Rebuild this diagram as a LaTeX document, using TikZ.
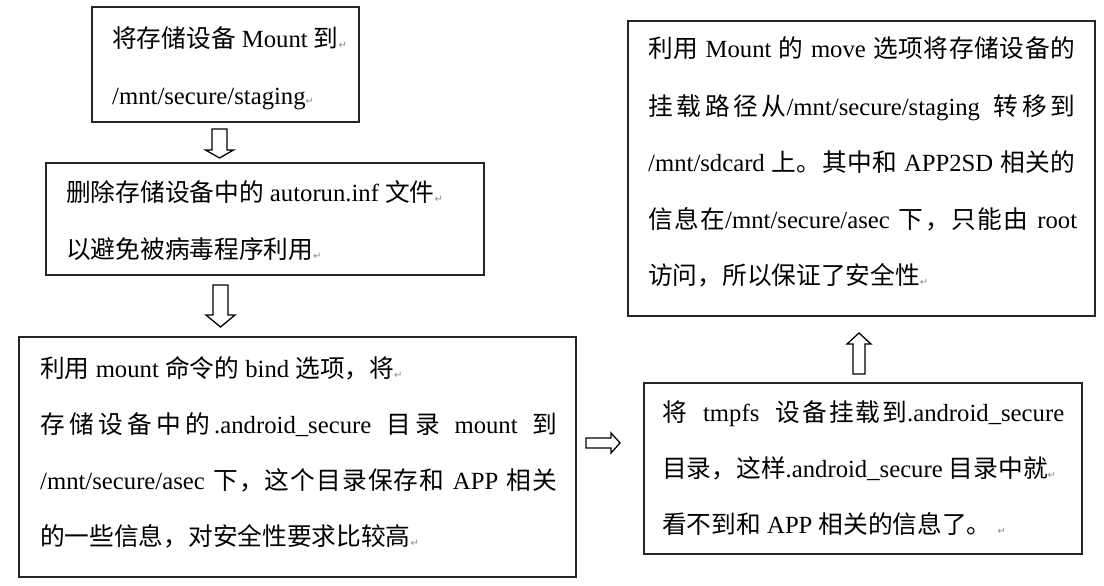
\documentclass[tikz,border=0pt]{standalone}
\usepackage{fontspec}
\setmainfont{Liberation Serif}
\newfontfamily\cjkfont{Noto Sans CJK SC}
\newfontfamily\dejavu{DejaVu Sans}
\newcommand\zh[1]{{\cjkfont#1}}
\newcommand\jg{\hspace{0pt plus 1fil}}
\newcommand\js{\hspace{0.25em plus 2fil}}
\newcommand\pmark{{\dejavu\fontsize{10}{10}\selectfont\color{black!45}\raisebox{-1pt}{↵}}}
\newcommand\jline[2]{\hbox to #1{#2}}
\begin{document}
\begin{tikzpicture}[x=1pt,y=-1pt,
  box/.style={draw=black!85,line width=1.7pt,fill=white,inner sep=0pt},
  txt/.style={anchor=base west,inner sep=0pt,font=\fontsize{24.7}{24.7}\selectfont},
  blockarrow/.style={draw=black,line width=1.3pt,fill=white,line join=miter}]
\useasboundingbox (0,0) rectangle (1104,586);
\fill[white] (0,0) rectangle (1104,586);
% boxes
\node[box,minimum width=267pt,minimum height=115pt] (b1) at (225.5,64.5) {};
\node[box,minimum width=438pt,minimum height=112pt] (b2) at (265,219) {};
\node[box,minimum width=557pt,minimum height=240pt] (b3) at (297.5,457) {};
\node[box,minimum width=438pt,minimum height=171pt] (b4) at (863,468.5) {};
\node[box,minimum width=467pt,minimum height=295pt] (b5) at (861.5,168.5) {};
% box 1
\node[txt] (t1a) at (112,48) {\zh{将存储设备} Mount \zh{到}\pmark};
\node[txt] (t1b) at (112,104) {/mnt/secure/staging\pmark};
% box 2
\node[txt] (t2a) at (66,201) {\zh{删除存储设备中的} autorun.inf \zh{文件}\pmark};
\node[txt] (t2b) at (66,258) {\zh{以避免被病毒程序利用}\pmark};
% box 3
\node[txt] (t3a) at (40,377) {\zh{利用} mount \zh{命令的} bind \zh{选项，将}\pmark};
\node[txt] (t3b) at (40,433) {\jline{517pt}{\zh{存}\jg\zh{储}\jg\zh{设}\jg\zh{备}\jg\zh{中}\jg\zh{的}\jg.android\_secure\js\zh{目}\jg\zh{录}\js mount\js\zh{到}}};
\node[txt] (t3c) at (40,489) {\jline{517pt}{/mnt/secure/asec\js\zh{下}\jg\zh{，}\jg\zh{这}\jg\zh{个}\jg\zh{目}\jg\zh{录}\jg\zh{保}\jg\zh{存}\jg\zh{和}\js APP\js\zh{相}\jg\zh{关}}};
\node[txt] (t3d) at (40,545) {\zh{的一些信息，对安全性要求比较高}\pmark};
% box 4
\node[txt] (t4a) at (662,421) {\jline{402pt}{\zh{将}\hspace{0.25em plus 1.5fil}tmpfs\hspace{0.25em plus 1.5fil}\zh{设}\hspace{0pt plus 0.3fil}\zh{备}\hspace{0pt plus 0.3fil}\zh{挂}\hspace{0pt plus 0.3fil}\zh{载}\hspace{0pt plus 0.3fil}\zh{到}.android\_secure}};
\node[txt] (t4b) at (662,477) {\zh{目录，这样}.android\_secure \zh{目录中就}\pmark};
\node[txt] (t4c) at (662,533) {\zh{看不到和} APP \zh{相关的信息了。} \pmark};
% box 5
\node[txt] (t5a) at (648,58) {\jline{427pt}{\zh{利}\jg\zh{用}\js Mount\js\zh{的}\js move\js\zh{选}\jg\zh{项}\jg\zh{将}\jg\zh{存}\jg\zh{储}\jg\zh{设}\jg\zh{备}\jg\zh{的}}};
\node[txt] (t5b) at (648,115) {\jline{427pt}{\zh{挂}\jg\zh{载}\jg\zh{路}\jg\zh{径}\jg\zh{从}/mnt/secure/staging\js\zh{转}\jg\zh{移}\jg\zh{到}}};
\node[txt] (t5c) at (648,171) {\jline{427pt}{/mnt/sdcard\js\zh{上}\jg\zh{。}\jg\zh{其}\jg\zh{中}\jg\zh{和}\js APP2SD\js\zh{相}\jg\zh{关}\jg\zh{的}}};
\node[txt] (t5d) at (648,228) {\jline{429pt}{\zh{信}\jg\zh{息}\jg\zh{在}/mnt/secure/asec\js\zh{下}\jg\zh{，}\jg\zh{只}\jg\zh{能}\jg\zh{由}\js root}};
\node[txt] (t5e) at (648,284) {\zh{访问，所以保证了安全性}\pmark};
% block arrows
\draw[blockarrow] (212,129) -- (227,129) -- (227,150) -- (233.5,150) -- (219.5,158) -- (205.5,150) -- (212,150) -- cycle;
\draw[blockarrow] (213,285) -- (228,285) -- (228,315) -- (235,315) -- (220.5,327) -- (206,315) -- (213,315) -- cycle;
\draw[blockarrow] (586,438) -- (611,438) -- (611,433) -- (620,443) -- (611,453) -- (611,448) -- (586,448) -- cycle;
\draw[blockarrow] (853,374) -- (853,344) -- (847,344) -- (859,333) -- (871,344) -- (865,344) -- (865,374) -- cycle;
\end{tikzpicture}
\end{document}
